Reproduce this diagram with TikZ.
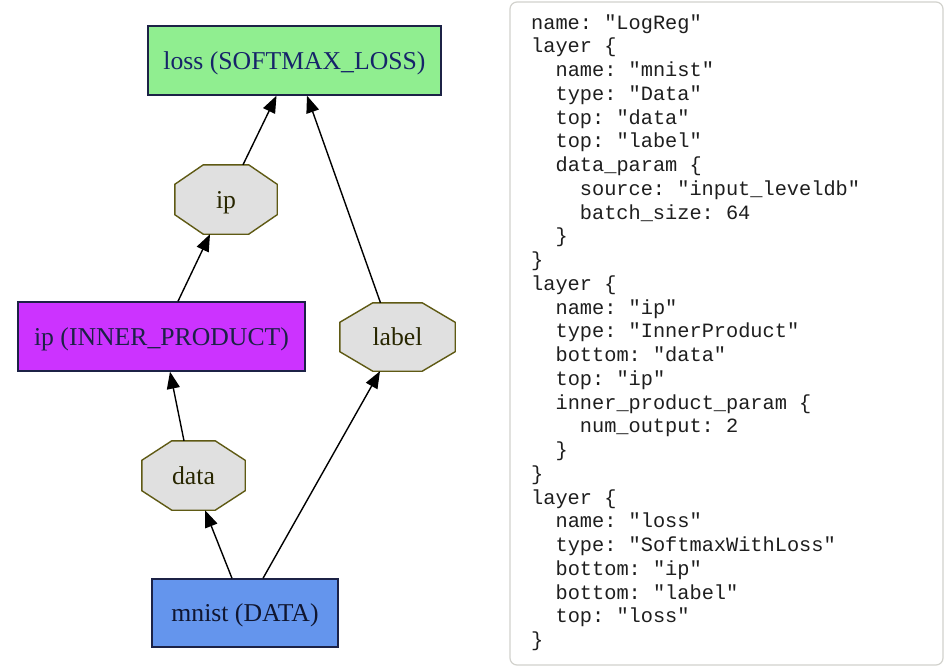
\documentclass[tikz,border=0pt]{standalone}
\usepackage{fontspec}
\setmainfont{Liberation Serif}
\setmonofont{Liberation Mono}
\usetikzlibrary{arrows.meta,backgrounds}
\definecolor{lossfill}{HTML}{90EE90}
\definecolor{ipfill}{HTML}{CC33FF}
\definecolor{mnistfill}{HTML}{6495ED}
\definecolor{octfill}{HTML}{E0E0E0}
\definecolor{octline}{RGB}{95,90,20}
\definecolor{boxline}{RGB}{28,34,70}
\definecolor{boxtext}{RGB}{22,36,105}
\definecolor{octtext}{RGB}{40,38,0}
\definecolor{codetext}{RGB}{30,30,30}
\definecolor{panelline}{RGB}{210,210,205}
\begin{document}
\begin{tikzpicture}[x=1pt,y=-1pt,
  lbox/.style={draw=boxline,line width=1.4pt,inner sep=0pt,text=boxtext,
    font=\fontsize{25.7}{28}\selectfont,text height=17.5pt,text depth=0.5pt},
  octn/.style={inner sep=0pt,text=octtext,font=\fontsize{25.7}{28}\selectfont,
    text height=17.5pt,text depth=0.5pt},
  octshape/.style={draw=octline,fill=octfill,line width=1.4pt},
  edge/.style={draw=black,line width=1.4pt,-{Triangle[length=17pt,width=13pt]}},
  code/.style={anchor=base west,inner sep=0pt,text=codetext,
    font=\fontsize{20.3}{24}\ttfamily}]
\useasboundingbox (0,0) rectangle (946,672);

% graph nodes
\node[lbox,fill=lossfill,minimum width=293pt,minimum height=69pt] (loss) at (294.5,60.5) {loss (SOFTMAX\_LOSS)};
\node[lbox,fill=ipfill,minimum width=287pt,minimum height=69pt,text=boxline] (ipbox) at (161.5,336.5) {ip (INNER\_PRODUCT)};
\node[lbox,fill=mnistfill,minimum width=186pt,minimum height=68pt,text={rgb,255:red,16;green,22;blue,48}] (mnist) at (245,613) {mnist (DATA)};
\node[octn,minimum width=102pt,minimum height=69pt] (ipo) at (226,199.5) {ip};
\node[octn,minimum width=115pt,minimum height=68pt] (lab) at (397.5,337) {label};
\node[octn,minimum width=103pt,minimum height=69pt] (dat) at (193.5,475.5) {data};

\begin{scope}[on background layer]
\fill[white] (0,0) rectangle (946,672);
\foreach \n/\c in {ipo/28.5,lab/33,dat/30}{
  \draw[octshape] ([xshift=\c pt]\n.north west) -- ([xshift=-\c pt]\n.north east)
    -- ([yshift=-19.5pt]\n.north east) -- ([yshift=19.5pt]\n.south east)
    -- ([xshift=-\c pt]\n.south east) -- ([xshift=\c pt]\n.south west)
    -- ([yshift=19.5pt]\n.south west) -- ([yshift=-19.5pt]\n.north west) -- cycle;
}
\end{scope}

% connectors
\draw[edge] ([xshift=17pt]ipo.north) -- ([xshift=-18pt]loss.south);
\draw[edge] ([xshift=-17pt]lab.north) -- ([xshift=12.5pt]loss.south);
\draw[edge] ([xshift=16.5pt]ipbox.north) -- ([xshift=-16pt]ipo.south);
\draw[edge] ([xshift=-9.5pt]dat.north) -- ([xshift=8.5pt]ipbox.south);
\draw[edge] ([xshift=-13pt]mnist.north) -- ([xshift=11.5pt]dat.south);
\draw[edge] ([xshift=18pt]mnist.north) -- ([xshift=-17.5pt]lab.south);

% code panel
\draw[panelline,line width=1.2pt,rounded corners=7pt] (510,2) rectangle (943,665);
\node[code] (c1) at (531,29) {name: "LogReg"};
\node[code] (c2) at (531,52.75) {layer \{};
\node[code] (c3) at (555.4,76.5) {name: "mnist"};
\node[code] (c4) at (555.4,100.25) {type: "Data"};
\node[code] (c5) at (555.4,124) {top: "data"};
\node[code] (c6) at (555.4,147.75) {top: "label"};
\node[code] (c7) at (555.4,171.5) {data\_param \{};
\node[code] (c8) at (579.7,195.25) {source: "input\_leveldb"};
\node[code] (c9) at (579.7,219) {batch\_size: 64};
\node[code] (c10) at (555.4,242.75) {\}};
\node[code] (c11) at (531,266.5) {\}};
\node[code] (c12) at (531,290.25) {layer \{};
\node[code] (c13) at (555.4,314) {name: "ip"};
\node[code] (c14) at (555.4,337.75) {type: "InnerProduct"};
\node[code] (c15) at (555.4,361.5) {bottom: "data"};
\node[code] (c16) at (555.4,385.25) {top: "ip"};
\node[code] (c17) at (555.4,409) {inner\_product\_param \{};
\node[code] (c18) at (579.7,432.75) {num\_output: 2};
\node[code] (c19) at (555.4,456.5) {\}};
\node[code] (c20) at (531,480.25) {\}};
\node[code] (c21) at (531,504) {layer \{};
\node[code] (c22) at (555.4,527.75) {name: "loss"};
\node[code] (c23) at (555.4,551.5) {type: "SoftmaxWithLoss"};
\node[code] (c24) at (555.4,575.25) {bottom: "ip"};
\node[code] (c25) at (555.4,599) {bottom: "label"};
\node[code] (c26) at (555.4,622.75) {top: "loss"};
\node[code] (c27) at (531,646.5) {\}};
\end{tikzpicture}
\end{document}
